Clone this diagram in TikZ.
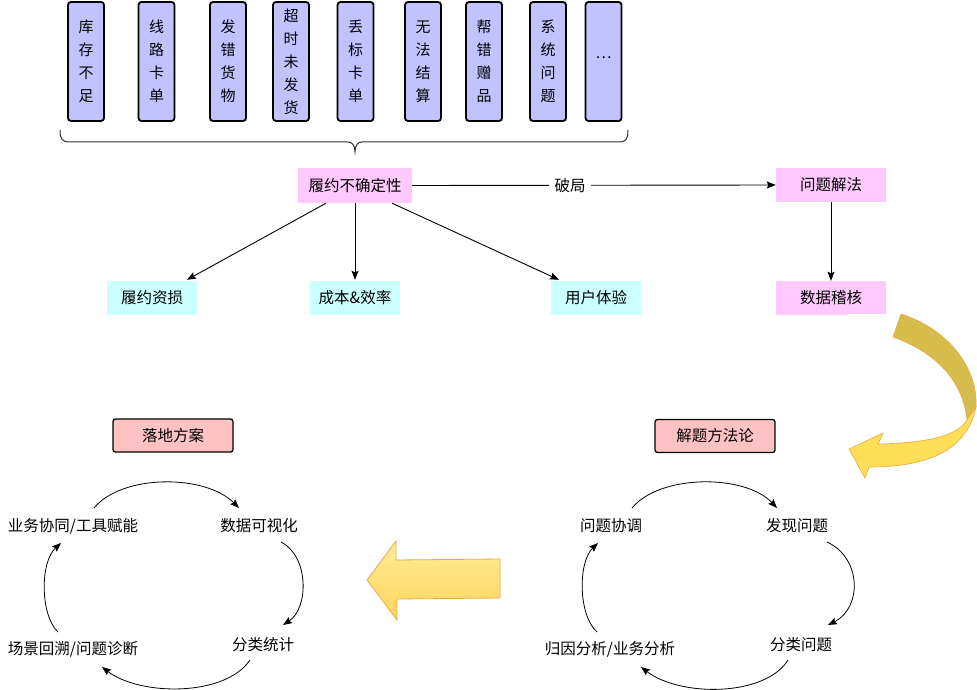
\documentclass[tikz,border=0pt]{standalone}
\usepackage{fontspec}
\setmainfont{Noto Sans CJK SC}
\usetikzlibrary{arrows.meta,calc}
\definecolor{lav}{RGB}{194,194,255}
\definecolor{pinkn}{RGB}{255,200,255}
\definecolor{cyann}{RGB}{204,255,255}
\definecolor{redn}{RGB}{255,194,194}
\definecolor{golddark}{RGB}{214,188,74}
\definecolor{goldbright}{RGB}{255,222,88}
\definecolor{goldedge}{RGB}{236,168,70}
\definecolor{arrtop}{RGB}{255,236,150}
\definecolor{arrbot}{RGB}{255,212,92}
\tikzset{
  topbox/.style={draw=black, line width=1.8pt, rounded corners=3pt, fill=lav,
    minimum width=36pt, minimum height=119pt, inner sep=0pt, align=center,
    font=\fontsize{15}{23}\selectfont},
  flatbox/.style={minimum width=110pt, minimum height=34pt, inner sep=0pt,
    font=\fontsize{15.5}{18}\selectfont},
  pinkbox/.style={flatbox, fill=pinkn},
  cyanbox/.style={flatbox, fill=cyann, minimum width=90pt},
  titlebox/.style={draw=black, line width=1.3pt, rounded corners=2.5pt, fill=redn,
    minimum width=120pt, minimum height=33pt, inner sep=0pt,
    font=\fontsize{15.5}{18}\selectfont},
  steplabel/.style={inner sep=0pt, font=\fontsize{15.5}{18}\selectfont},
  arr/.style={line width=0.9pt, -{Stealth[length=9pt,width=7pt,inset=1.5pt]}},
  cyc/.style={line width=0.8pt, -{Stealth[length=9pt,width=7pt,inset=1.5pt]}},
}
\begin{document}
\begin{tikzpicture}[x=1pt,y=-1pt]
\useasboundingbox (0,0) rectangle (977,690);

% top boxes
\node[topbox] (t1) at (86,61.5) {库\\存\\不\\足};
\node[topbox] (t2) at (156.5,61.5) {线\\路\\卡\\单};
\node[topbox] (t3) at (228,61.5) {发\\错\\货\\物};
\node[topbox] (t4) at (291,61.5) {超\\时\\未\\发\\货};
\node[topbox] (t5) at (355.5,61.5) {丢\\标\\卡\\单};
\node[topbox] (t6) at (423,61.5) {无\\法\\结\\算};
\node[topbox] (t7) at (484,61.5) {帮\\错\\赠\\品};
\node[topbox] (t8) at (548,61.5) {系\\统\\问\\题};
\node[topbox] (t9) at (603.5,61.5) {\raisebox{7pt}{…}};

% brace
\draw[line width=1pt, black!80] (60,130) .. controls (60,139) and (62,142) .. (70,142)
  -- (348,142) .. controls (352,142) and (355,145) .. (355,152)
  .. controls (355,145) and (358,142) .. (362,142)
  -- (619,142) .. controls (626,142) and (628,139) .. (628,130);

% middle row
\node[pinkbox, minimum width=114pt, minimum height=35pt] (u) at (355,185.5) {履约不确定性};
\node[pinkbox] (jf) at (831,185) {问题解法};
\node[pinkbox] (sj) at (831,298) {数据稽核};
\fill[white] (848,313.5) rectangle (887,316);
\node[cyanbox] (c1) at (152,298) {履约资损};
\node[cyanbox] (c2) at (355,298) {成本\&效率};
\node[cyanbox] (c3) at (596,298) {用户体验};

\draw[arr] ($(u.south)+(-29,0)$) -- ($(c1.north)+(35,-1)$);
\draw[arr] (u.south) -- ($(c2.north)+(0,-1)$);
\draw[arr] ($(u.south)+(37,0)$) -- ($(c3.north)+(-37,-1)$);
\draw[arr] (u.east) -- node[pos=0.434, fill=white, inner sep=0pt, minimum width=42pt, minimum height=16pt, font=\fontsize{15.5}{18}\selectfont] {破局} (jf.west);
\draw[arr] (jf.south) -- (sj.north);

% curved ribbon arrow
\draw[goldedge, line width=0.6pt, fill=golddark]
  (901,314) .. controls (945,328) and (978,365) .. (976,407)
  -- (967,420) .. controls (963,380) and (935,352) .. (893,337) -- cycle;
\draw[goldedge, line width=0.6pt, fill=goldbright]
  (976,407) .. controls (966,455) and (920,467) .. (869,467)
  -- (865,478) -- (849,449) -- (883,433) -- (878,444)
  .. controls (920,443) and (956,438) .. (967,420) -- cycle;

% big left arrow
\draw[goldedge, line width=0.8pt, top color=arrtop, bottom color=arrbot]
  (367,580) -- (396,541) -- (396,560) -- (500,559) -- (500,598)
  -- (397,599) -- (397,620) -- cycle;

% left cycle
\node[titlebox] (ld) at (173,435.5) {落地方案};
\node[steplabel] (L1) at (73,526) {业务协同/工具赋能};
\node[steplabel] (L2) at (259,526) {数据可视化};
\node[steplabel] (L3) at (263,645) {分类统计};
\node[steplabel] (L4) at (73,649) {场景回溯/问题诊断};
\draw[cyc] ($(L1)+(21,-18)$) .. controls (122,474) and (205,474) .. ($(L2)+(-20,-18)$);
\draw[cyc] ($(L2)+(22,16)$) .. controls (309,556) and (309,608) .. ($(L3)+(20,-20)$);
\draw[cyc] ($(L3)+(-13,15)$) .. controls (225,697) and (140,696) .. ($(L4)+(29,18)$);
\draw[cyc] ($(L4)+(-15,-17)$) .. controls (40,615) and (40,562) .. ($(L1)+(-12,17)$);

% right cycle
\node[titlebox] (jt) at (715,436) {解题方法论};
\node[steplabel] (R1) at (611,526) {问题协调};
\node[steplabel] (R2) at (797,526) {发现问题};
\node[steplabel] (R3) at (801,645) {分类问题};
\node[steplabel] (R4) at (610,649) {归因分析/业务分析};
\draw[cyc] ($(R1)+(21,-18)$) .. controls (660,474) and (745,474) .. ($(R2)+(-20,-18)$);
\draw[cyc] ($(R2)+(30,16)$) .. controls (862,558) and (862,608) .. ($(R3)+(27,-20)$);
\draw[cyc] ($(R3)+(-13,15)$) .. controls (765,697) and (680,697) .. ($(R4)+(31,18)$);
\draw[cyc] ($(R4)+(-13,-17)$) .. controls (578,615) and (578,562) .. ($(R1)+(-13,17)$);
\end{tikzpicture}
\end{document}
